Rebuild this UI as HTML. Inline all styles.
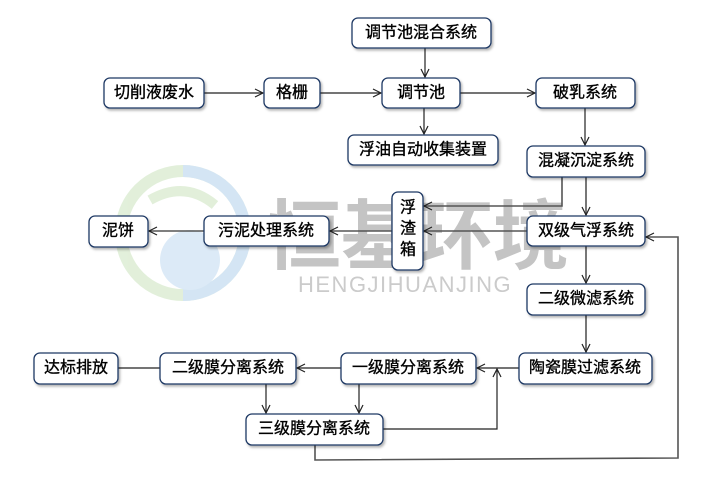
<!DOCTYPE html>
<html><head><meta charset="utf-8"><style>
html,body{margin:0;padding:0;background:#fff;}
svg{display:block;}
.b{fill:#fff;stroke:#1f3864;stroke-width:1.3;filter:url(#sh);}
.t{font-family:"Liberation Sans","Noto Sans CJK SC",sans-serif;font-size:16px;fill:#000;stroke:#000;stroke-width:0.35;text-anchor:middle;dominant-baseline:central;}
.l{stroke:#222;stroke-width:1.2;fill:none;}
.g{stroke:#555;stroke-width:1.6;fill:none;}
</style></head><body>
<svg width="723" height="480" viewBox="0 0 723 480" xmlns="http://www.w3.org/2000/svg">
<defs>
<filter id="sh" x="-10%" y="-10%" width="130%" height="140%"><feDropShadow dx="1.5" dy="2" stdDeviation="1.2" flood-color="#000" flood-opacity="0.3"/></filter>
<marker id="a" markerWidth="10" markerHeight="10" refX="9" refY="5" orient="auto" markerUnits="userSpaceOnUse"><path d="M1,1 L9,5 L1,9" fill="none" stroke="#222" stroke-width="1.2"/></marker>
</defs>
<g opacity="0.6">
<circle cx="183" cy="233" r="62" fill="none" stroke="#cfe6c3" stroke-width="12"/>
<path d="M183 171 A62 62 0 0 1 245 233 A62 62 0 0 1 183 295" fill="none" stroke="#b9d5ee" stroke-width="12"/>
<circle cx="190" cy="260" r="30" fill="#c5ddf2"/>
<path d="M150 200 Q185 180 215 205" fill="none" stroke="#cfe6c3" stroke-width="10"/>
</g>
<text x="265" y="263" font-family="Liberation Sans,'Noto Sans CJK SC',sans-serif" font-size="76" font-weight="bold" fill="#c4c4c4">恒基环境</text>
<text x="298" y="292" font-family="Liberation Sans,sans-serif" font-size="22" fill="#cbcbcb" letter-spacing="1.5">HENGJIHUANJING</text>

<line class="l" x1="425" y1="48" x2="425" y2="77" marker-end="url(#a)"/>
<line class="l" x1="424" y1="108" x2="424" y2="134" marker-end="url(#a)"/>
<line class="l" x1="204" y1="93" x2="263" y2="93" marker-end="url(#a)"/>
<line class="l" x1="320" y1="93" x2="381" y2="93" marker-end="url(#a)"/>
<line class="l" x1="460" y1="93" x2="535" y2="93" marker-end="url(#a)"/>
<line class="l" x1="585" y1="108" x2="585" y2="145" marker-end="url(#a)"/>
<line class="g" x1="586" y1="177" x2="586" y2="215" marker-end="url(#a)"/>
<polyline class="g" points="562,177 562,206 424,206" marker-end="url(#a)"/>
<line class="g" x1="527" y1="231" x2="424" y2="231" marker-end="url(#a)"/>
<line class="g" x1="392" y1="231" x2="330" y2="231" marker-end="url(#a)"/>
<line class="g" x1="204" y1="231" x2="149" y2="231" marker-end="url(#a)"/>
<line class="g" x1="586" y1="246" x2="586" y2="283" marker-end="url(#a)"/>
<line class="g" x1="586" y1="315" x2="586" y2="352" marker-end="url(#a)"/>
<line class="l" x1="519" y1="368" x2="477" y2="368" marker-end="url(#a)"/>
<line class="l" x1="341" y1="368" x2="297" y2="368" marker-end="url(#a)"/>
<line class="l" x1="160" y1="368" x2="110" y2="368" marker-end="url(#a)"/>
<line class="l" x1="266" y1="384" x2="266" y2="413" marker-end="url(#a)"/>
<line class="l" x1="359" y1="384" x2="359" y2="413" marker-end="url(#a)"/>
<polyline class="l" points="383,429 497,429 497,369" marker-end="url(#a)"/>
<polyline class="g" points="315,445 315,460 678,458 678,237 646,237" marker-end="url(#a)"/>

<rect class="b" x="352" y="18" width="139" height="30" rx="6"/><text class="t" x="421" y="33">调节池混合系统</text>
<rect class="b" x="104" y="78" width="100" height="30" rx="6"/><text class="t" x="154" y="93">切削液废水</text>
<rect class="b" x="264" y="78" width="56" height="30" rx="6"/><text class="t" x="292" y="93">格栅</text>
<rect class="b" x="382" y="78" width="78" height="30" rx="6"/><text class="t" x="421" y="93">调节池</text>
<rect class="b" x="536" y="78" width="99" height="30" rx="6"/><text class="t" x="585" y="93">破乳系统</text>
<rect class="b" x="348" y="135" width="150" height="30" rx="6"/><text class="t" x="423" y="150">浮油自动收集装置</text>
<rect class="b" x="527" y="146" width="118" height="31" rx="6"/><text class="t" x="586" y="161">混凝沉淀系统</text>
<rect class="b" x="392" y="192" width="31" height="78" rx="6"/>
<text class="t" x="408" y="208">浮</text><text class="t" x="408" y="229">渣</text><text class="t" x="408" y="250">箱</text>
<rect class="b" x="527" y="216" width="118" height="30" rx="6"/><text class="t" x="586" y="231">双级气浮系统</text>
<rect class="b" x="204" y="216" width="125" height="30" rx="6"/><text class="t" x="266" y="231">污泥处理系统</text>
<rect class="b" x="89" y="216" width="59" height="31" rx="6"/><text class="t" x="118" y="231">泥饼</text>
<rect class="b" x="527" y="284" width="118" height="31" rx="6"/><text class="t" x="586" y="299">二级微滤系统</text>
<rect class="b" x="519" y="353" width="133" height="31" rx="6"/><text class="t" x="585" y="368">陶瓷膜过滤系统</text>
<rect class="b" x="341" y="353" width="135" height="31" rx="6"/><text class="t" x="408" y="368">一级膜分离系统</text>
<rect class="b" x="160" y="353" width="136" height="31" rx="6"/><text class="t" x="228" y="368">二级膜分离系统</text>
<rect class="b" x="34" y="353" width="84" height="31" rx="6"/><text class="t" x="76" y="368">达标排放</text>
<rect class="b" x="246" y="414" width="137" height="31" rx="6"/><text class="t" x="314" y="429">三级膜分离系统</text>
</svg>
</body></html>
